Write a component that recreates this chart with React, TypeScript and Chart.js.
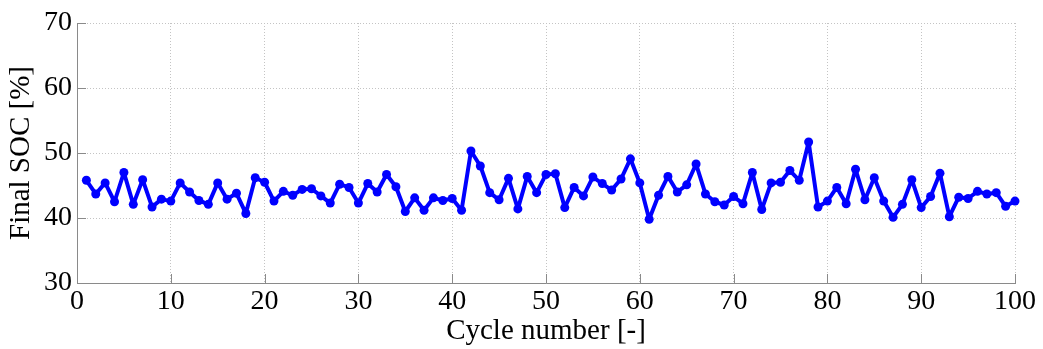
import React, { useEffect, useRef } from "react";
import { Chart, registerables } from "chart.js";

Chart.register(...registerables);

const cycles = [
  1, 2, 3, 4, 5, 6, 7, 8, 9, 10, 11, 12, 13, 14, 15, 16, 17, 18, 19, 20,
  21, 22, 23, 24, 25, 26, 27, 28, 29, 30, 31, 32, 33, 34, 35, 36, 37, 38, 39, 40,
  41, 42, 43, 44, 45, 46, 47, 48, 49, 50, 51, 52, 53, 54, 55, 56, 57, 58, 59, 60,
  61, 62, 63, 64, 65, 66, 67, 68, 69, 70, 71, 72, 73, 74, 75, 76, 77, 78, 79, 80,
  81, 82, 83, 84, 85, 86, 87, 88, 89, 90, 91, 92, 93, 94, 95, 96, 97, 98, 99, 100,
];

const finalSoc = [
  45.8, 43.7, 45.4, 42.5, 47.0, 42.1, 45.9, 41.7, 42.9, 42.6,
  45.4, 44.0, 42.7, 42.1, 45.4, 42.9, 43.8, 40.7, 46.2, 45.5,
  42.6, 44.1, 43.5, 44.4, 44.5, 43.4, 42.3, 45.2, 44.7, 42.3,
  45.3, 44.0, 46.7, 44.8, 41.0, 43.1, 41.2, 43.1, 42.7, 43.0,
  41.2, 50.3, 48.0, 43.9, 42.8, 46.1, 41.4, 46.4, 43.9, 46.7,
  46.8, 41.6, 44.7, 43.4, 46.3, 45.3, 44.3, 46.0, 49.1, 45.4,
  39.8, 43.5, 46.4, 44.0, 45.1, 48.3, 43.7, 42.5, 42.0, 43.3,
  42.2, 47.0, 41.3, 45.4, 45.5, 47.3, 45.8, 51.7, 41.7, 42.6,
  44.7, 42.2, 47.5, 42.8, 46.2, 42.6, 40.1, 42.1, 45.9, 41.6,
  43.3, 46.9, 40.2, 43.2, 43.0, 44.1, 43.7, 43.9, 41.8, 42.6,
];

const xTicks = [0, 10, 20, 30, 40, 50, 60, 70, 80, 90, 100];
const yTicks = [30, 40, 50, 60, 70];

const xTitle = "Cycle number [-]";
const yTitle = "Final SOC [%]";

const FONT = "'Liberation Serif', 'Times New Roman', serif";
const AXIS_COLOR = "#8a8a8a";
const GRID_COLOR = "#c4c4c4";

const innerTicks = {
  id: "innerTicks",
  afterDatasetsDraw(chart: any) {
    const { ctx, chartArea, scales } = chart;
    const len = 9;
    ctx.save();
    ctx.strokeStyle = AXIS_COLOR;
    ctx.lineWidth = 1;
    ctx.setLineDash([]);
    ctx.beginPath();
    xTicks.forEach((v) => {
      const px = Math.round(scales.x.getPixelForValue(v)) + 0.5;
      ctx.moveTo(px, chartArea.bottom);
      ctx.lineTo(px, chartArea.bottom - len);
    });
    yTicks.forEach((v) => {
      const py = Math.round(scales.y.getPixelForValue(v)) + 0.5;
      ctx.moveTo(chartArea.left, py);
      ctx.lineTo(chartArea.left + len, py);
    });
    ctx.stroke();
    ctx.restore();
  },
};

export default function App() {
  const ref = useRef<HTMLCanvasElement | null>(null);

  useEffect(() => {
    if (!ref.current) return;
    const chart = new Chart(ref.current, {
      type: "line",
      data: {
        datasets: [
          {
            data: cycles.map((c, i) => ({ x: c, y: finalSoc[i] })),
            borderColor: "#0000ff",
            backgroundColor: "#0000ff",
            borderWidth: 4,
            borderJoinStyle: "round",
            borderCapStyle: "round",
            pointRadius: 4.5,
            pointBorderWidth: 0,
            pointBackgroundColor: "#0000ff",
            tension: 0,
            clip: false,
          },
        ],
      },
      options: {
        animation: false,
        responsive: false,
        devicePixelRatio: 1,
        layout: { padding: { top: 23, right: 28, left: 0, bottom: 0 } },
        plugins: {
          legend: { display: false },
          tooltip: { enabled: false },
        },
        scales: {
          x: {
            type: "linear",
            min: 0,
            max: 100,
            afterBuildTicks: (s: any) => {
              s.ticks = xTicks.map((v) => ({ value: v }));
            },
            afterFit: (s: any) => {
              s.height = 66;
            },
            ticks: {
              color: "#000",
              padding: 2,
              maxRotation: 0,
              font: { family: FONT, size: 28 },
            },
            grid: {
              drawTicks: false,
              color: GRID_COLOR,
              lineWidth: 1,
            },
            border: { display: true, color: AXIS_COLOR, width: 1, dash: [1, 2] },
            title: {
              display: true,
              text: xTitle,
              color: "#000",
              font: { family: FONT, size: 29 },
              padding: { top: 0, bottom: 0 },
            },
          },
          y: {
            type: "linear",
            min: 30,
            max: 70,
            afterBuildTicks: (s: any) => {
              s.ticks = yTicks.map((v) => ({ value: v }));
            },
            afterFit: (s: any) => {
              s.width = 77;
            },
            ticks: {
              color: "#000",
              padding: 5,
              font: { family: FONT, size: 28 },
            },
            grid: {
              drawTicks: false,
              color: GRID_COLOR,
              lineWidth: 1,
            },
            border: { display: true, color: AXIS_COLOR, width: 1, dash: [1, 2] },
            title: {
              display: true,
              text: yTitle,
              color: "#000",
              font: { family: FONT, size: 29 },
              padding: { top: 4, bottom: 0 },
            },
          },
        },
      },
      plugins: [innerTicks],
    } as any);
    return () => chart.destroy();
  }, []);

  return (
    <div style={{ position: "fixed", left: 0, top: 0, width: 1043, height: 349, background: "#fff" }}>
      <canvas ref={ref} width={1043} height={349} style={{ width: 1043, height: 349, display: "block" }} />
    </div>
  );
}
